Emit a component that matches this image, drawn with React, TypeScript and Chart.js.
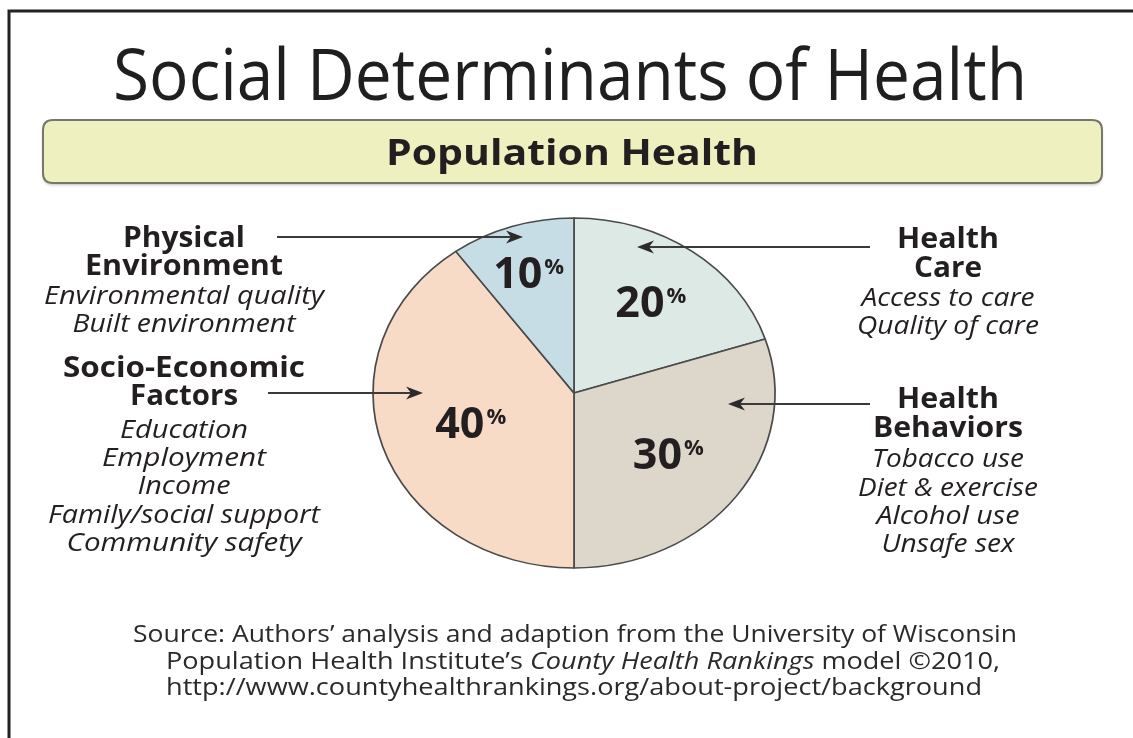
import React, { useEffect, useRef } from "react";
import { Chart, registerables } from "chart.js";

Chart.register(...registerables);

// ---------- data ----------
const categories = ["Health Care", "Health Behaviors", "Socio-Economic Factors", "Physical Environment"];
const shares = [20, 30, 40, 10];
const sliceColors = ["#dce9e5", "#ddd6ca", "#f8dbc6", "#c7dde5"];

const titleText = "Social Determinants of Health";
const bannerText = "Population Health";

const physicalHeading = ["Physical", "Environment"];
const physicalItems = ["Environmental quality", "Built environment"];
const socioHeading = ["Socio-Economic", "Factors"];
const socioItems = ["Education", "Employment", "Income", "Family/social support", "Community safety"];
const careHeading = ["Health", "Care"];
const careItems = ["Access to care", "Quality of care"];
const behaviorHeading = ["Health", "Behaviors"];
const behaviorItems = ["Tobacco use", "Diet & exercise", "Alcohol use", "Unsafe sex"];

const sourceLine1 = "Source: Authors\u2019 analysis and adaption from the University of Wisconsin";
const sourceLine2a = "Population Health Institute\u2019s ";
const sourceLine2b = "County Health Rankings";
const sourceLine2c = " model \u00a92010,";
const sourceLine3 = "http://www.countyhealthrankings.org/about-project/background";

// ---------- styling ----------
const FONT = '"Open Sans", "DejaVu Sans", sans-serif';
const INK = "#231f20";
const STRETCH = 201 / 175;
const labelRadial = [0.65, 0.58, 0.54, 0.73];

function fitText(
  ctx: CanvasRenderingContext2D,
  text: string,
  cx: number,
  baseline: number,
  width: number,
  font: string,
  color = INK
) {
  ctx.save();
  ctx.font = font;
  const w = ctx.measureText(text).width;
  const s = width / w;
  ctx.translate(cx, baseline);
  ctx.scale(s, 1);
  ctx.textAlign = "center";
  ctx.textBaseline = "alphabetic";
  ctx.fillStyle = color;
  ctx.fillText(text, 0, 0);
  ctx.restore();
}

function arrow(ctx: CanvasRenderingContext2D, x1: number, y1: number, x2: number, y2: number) {
  const dir = Math.sign(x2 - x1);
  ctx.save();
  ctx.strokeStyle = "#3a3a3a";
  ctx.fillStyle = "#2a2a2a";
  ctx.lineWidth = 2;
  ctx.beginPath();
  ctx.moveTo(x1, y1);
  ctx.lineTo(x2 - dir * 8, y2);
  ctx.stroke();
  ctx.beginPath();
  ctx.moveTo(x2, y2);
  ctx.lineTo(x2 - dir * 17, y2 - 6.5);
  ctx.lineTo(x2 - dir * 12, y2);
  ctx.lineTo(x2 - dir * 17, y2 + 6.5);
  ctx.closePath();
  ctx.fill();
  ctx.restore();
}

function roundRect(ctx: CanvasRenderingContext2D, x: number, y: number, w: number, h: number, r: number) {
  ctx.beginPath();
  ctx.moveTo(x + r, y);
  ctx.lineTo(x + w - r, y);
  ctx.quadraticCurveTo(x + w, y, x + w, y + r);
  ctx.lineTo(x + w, y + h - r);
  ctx.quadraticCurveTo(x + w, y + h, x + w - r, y + h);
  ctx.lineTo(x + r, y + h);
  ctx.quadraticCurveTo(x, y + h, x, y + h - r);
  ctx.lineTo(x, y + r);
  ctx.quadraticCurveTo(x, y, x + r, y);
  ctx.closePath();
}

const decorPlugin = {
  id: "decor",
  beforeDraw(chart: any) {
    const ctx = chart.ctx as CanvasRenderingContext2D;
    ctx.save();
    ctx.fillStyle = "#ffffff";
    ctx.fillRect(0, 0, chart.width, chart.height);
    ctx.restore();
  },
  beforeDatasetsDraw(chart: any) {
    const ctx = chart.ctx as CanvasRenderingContext2D;
    const arc = chart.getDatasetMeta(0).data[0];
    ctx.save();
    ctx.translate(arc.x, 0);
    ctx.scale(STRETCH, 1);
    ctx.translate(-arc.x, 0);
  },
  afterDatasetsDraw(chart: any) {
    chart.ctx.restore();
  },
  afterDraw(chart: any) {
    const ctx = chart.ctx as CanvasRenderingContext2D;

    // frame
    ctx.save();
    ctx.strokeStyle = "#222";
    ctx.lineWidth = 3;
    ctx.beginPath();
    ctx.moveTo(9, 738);
    ctx.lineTo(9, 11);
    ctx.lineTo(1133, 11);
    ctx.stroke();
    ctx.restore();

    // title
    fitText(ctx, titleText, 570, 100, 914, `400 72px ${FONT}`, "#1f1f1f");

    // banner
    ctx.save();
    ctx.shadowColor = "rgba(0,0,0,0.25)";
    ctx.shadowBlur = 3;
    ctx.shadowOffsetY = 2;
    roundRect(ctx, 43, 120, 1059, 63, 10);
    ctx.fillStyle = "#eef0c0";
    ctx.fill();
    ctx.restore();
    ctx.save();
    roundRect(ctx, 43, 120, 1059, 63, 10);
    ctx.strokeStyle = "#77776a";
    ctx.lineWidth = 2;
    ctx.stroke();
    ctx.restore();
    fitText(ctx, bannerText, 572, 165, 372, `700 36px ${FONT}`);

    // percentage labels from the arcs
    const meta = chart.getDatasetMeta(0);
    meta.data.forEach((el: any, i: number) => {
      const p = el.getProps(["x", "y", "startAngle", "endAngle", "outerRadius"], true);
      const mid = (p.startAngle + p.endAngle) / 2;
      const r = p.outerRadius * labelRadial[i];
      const lx = p.x + Math.cos(mid) * r * STRETCH;
      const ly = p.y + Math.sin(mid) * r;
      const num = String(shares[i]);
      ctx.save();
      ctx.fillStyle = INK;
      ctx.textBaseline = "alphabetic";
      ctx.textAlign = "left";
      ctx.font = `700 43px ${FONT}`;
      const w1 = ctx.measureText(num).width;
      ctx.font = `700 22px ${FONT}`;
      const w2 = ctx.measureText("%").width;
      const total = w1 + 2 + w2;
      const x0 = lx - total / 2;
      const base = ly + 16;
      ctx.font = `700 43px ${FONT}`;
      ctx.fillText(num, x0, base);
      ctx.font = `700 22px ${FONT}`;
      ctx.fillText("%", x0 + w1 + 2, base - 14);
      ctx.restore();
    });

    // left labels
    const LX = 184;
    const bold = `700 28px ${FONT}`;
    const ital = `italic 400 25px ${FONT}`;
    fitText(ctx, physicalHeading[0], LX, 247, 122, bold);
    fitText(ctx, physicalHeading[1], LX, 275, 198, bold);
    fitText(ctx, physicalItems[0], LX, 304, 280, ital);
    fitText(ctx, physicalItems[1], LX, 332, 223, ital);
    fitText(ctx, socioHeading[0], LX, 377, 242, bold);
    fitText(ctx, socioHeading[1], LX, 405, 108, bold);
    const socioW = [128, 164, 93, 272, 235];
    const socioB = [438, 466, 494, 523, 551];
    socioItems.forEach((t, i) => fitText(ctx, t, LX, socioB[i], socioW[i], ital));

    // right labels
    const RX = 948;
    fitText(ctx, careHeading[0], RX, 248, 102, bold);
    fitText(ctx, careHeading[1], RX, 277, 68, bold);
    fitText(ctx, careItems[0], RX, 306, 173, ital);
    fitText(ctx, careItems[1], RX, 334, 182, ital);
    fitText(ctx, behaviorHeading[0], RX, 408, 102, bold);
    fitText(ctx, behaviorHeading[1], RX, 437, 150, bold);
    const behW = [152, 180, 143, 133];
    const behB = [467, 496, 524, 552];
    behaviorItems.forEach((t, i) => fitText(ctx, t, RX, behB[i], behW[i], ital));

    // arrows
    arrow(ctx, 277, 237, 523, 237);
    arrow(ctx, 268, 393, 423, 393);
    arrow(ctx, 870, 247, 637, 247);
    arrow(ctx, 870, 404, 728, 404);

    // source
    const src = `400 24px ${FONT}`;
    fitText(ctx, sourceLine1, 575, 642, 884, src, "#2a2a2a");
    ctx.save();
    const srcI = `italic 400 24px ${FONT}`;
    ctx.font = src;
    const a = ctx.measureText(sourceLine2a).width;
    const c = ctx.measureText(sourceLine2c).width;
    ctx.font = srcI;
    const b = ctx.measureText(sourceLine2b).width;
    const tot = a + b + c;
    const target = 834;
    const s = target / tot;
    ctx.translate(583 - target / 2, 669);
    ctx.scale(s, 1);
    ctx.fillStyle = "#2a2a2a";
    ctx.textAlign = "left";
    ctx.textBaseline = "alphabetic";
    ctx.font = src;
    ctx.fillText(sourceLine2a, 0, 0);
    ctx.font = srcI;
    ctx.fillText(sourceLine2b, a, 0);
    ctx.font = src;
    ctx.fillText(sourceLine2c, a + b, 0);
    ctx.restore();
    fitText(ctx, sourceLine3, 574, 695, 816, src, "#2a2a2a");
  },
};

export default function App() {
  const ref = useRef<HTMLCanvasElement | null>(null);
  useEffect(() => {
    if (!ref.current) return;
    const chart = new Chart(ref.current, {
      type: "pie",
      data: {
        labels: categories,
        datasets: [
          {
            data: shares,
            backgroundColor: sliceColors,
            borderColor: "#4a4a4a",
            borderWidth: 1.5,
          },
        ],
      },
      options: {
        responsive: false,
        animation: false,
        radius: 175,
        layout: { padding: { left: 374, right: 359, top: 218, bottom: 170 } },
        plugins: { legend: { display: false }, tooltip: { enabled: false } },
        events: [],
      } as any,
      plugins: [decorPlugin],
    });
    return () => chart.destroy();
  }, []);
  return (
    <div style={{ position: "absolute", left: 0, top: 0, width: 1133, height: 738, background: "#fff" }}>
      <canvas ref={ref} width={1133} height={738} style={{ width: 1133, height: 738, display: "block" }} />
    </div>
  );
}
